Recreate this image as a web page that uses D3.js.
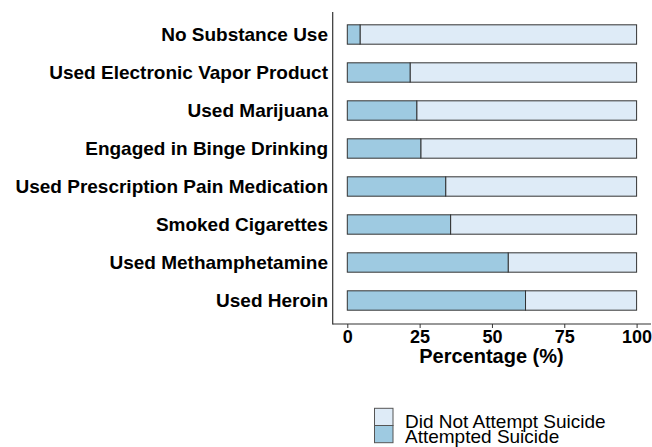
<!DOCTYPE html>
<html><head><meta charset="utf-8">
<script src="https://cdn.jsdelivr.net/npm/d3@7"></script>
<style>body{margin:0;background:#fff;}svg{display:block;font-family:"Liberation Sans",Arial,sans-serif;}</style>
</head><body>
<svg id="c" width="652" height="447"></svg>
<script>
const categories = ["No Substance Use","Used Electronic Vapor Product","Used Marijuana","Engaged in Binge Drinking","Used Prescription Pain Medication","Smoked Cigarettes","Used Methamphetamine","Used Heroin"];
const attempted = [4.4, 21.7, 24.0, 25.4, 34.0, 35.7, 55.6, 61.6];
const notAttempted = attempted.map(v => 100 - v);
const xTicks = [0, 25, 50, 75, 100];
const seriesNames = ["Did Not Attempt Suicide", "Attempted Suicide"];
const colors = {"Attempted Suicide": "#9ecae1", "Did Not Attempt Suicide": "#deebf7"};

const svg = d3.select("#c");
const x = d3.scaleLinear().domain([0, 100]).range([347.3, 636.6]);
const y = d3.scaleBand().domain(categories).range([15.5, 319.5]).paddingInner(0.49).paddingOuter(0.245);

const rows = categories.map((c, i) => ({c, a: attempted[i], n: notAttempted[i]}));
const g = svg.append("g");
g.selectAll("rect.n").data(rows).join("rect")
  .attr("x", d => x(d.a)).attr("width", d => x(d.a + d.n) - x(d.a))
  .attr("y", d => y(d.c)).attr("height", y.bandwidth())
  .attr("fill", colors["Did Not Attempt Suicide"]).attr("stroke", "#333").attr("stroke-width", 1);
g.selectAll("rect.a").data(rows).join("rect")
  .attr("x", x(0)).attr("width", d => x(d.a) - x(0))
  .attr("y", d => y(d.c)).attr("height", y.bandwidth())
  .attr("fill", colors["Attempted Suicide"]).attr("stroke", "#333").attr("stroke-width", 1);

// axes
const xAxis = d3.axisBottom(x).tickValues(xTicks).tickSize(4).tickPadding(2.5).tickFormat(d3.format("d"));
const xg = svg.append("g").attr("transform", "translate(0,324)").call(xAxis);
xg.select(".domain").remove();
xg.selectAll(".tick line").attr("stroke", "#333").attr("stroke-width", 1);
xg.selectAll("text").attr("font-size", 18).attr("font-weight", "bold").attr("fill", "#000").attr("font-family", "Liberation Sans, Arial, sans-serif");
svg.append("line").attr("x1", 332.7).attr("x2", 651).attr("y1", 324).attr("y2", 324).attr("stroke", "#333").attr("stroke-width", 1.2);

const yAxis = d3.axisLeft(y).tickSize(0).tickPadding(5);
const yg = svg.append("g").attr("transform", "translate(333,0)").call(yAxis);
yg.select(".domain").remove();
yg.selectAll("text").attr("font-size", 19).attr("font-weight", "bold").attr("fill", "#000").attr("font-family", "Liberation Sans, Arial, sans-serif").attr("dy", "0.36em");
svg.append("line").attr("x1", 332.7).attr("x2", 332.7).attr("y1", 12).attr("y2", 324.6).attr("stroke", "#333").attr("stroke-width", 1.2);

svg.append("text").attr("x", (x(0) + x(100)) / 2 - 0.5).attr("y", 363.3).attr("text-anchor", "middle")
  .attr("font-size", 20).attr("font-weight", "bold").text("Percentage (%)");

// legend
const lg = svg.append("g");
seriesNames.forEach((s, i) => {
  lg.append("rect").attr("x", 374.5).attr("y", 408.3 + i * 17.2).attr("width", 18.5).attr("height", 17.2)
    .attr("fill", colors[s]).attr("stroke", "#555").attr("stroke-width", 1);
  lg.append("text").attr("x", 405).attr("y", 428.2 + i * 14.4).attr("font-size", 19).attr("fill", "#000").text(s);
});
</script>
</body></html>
